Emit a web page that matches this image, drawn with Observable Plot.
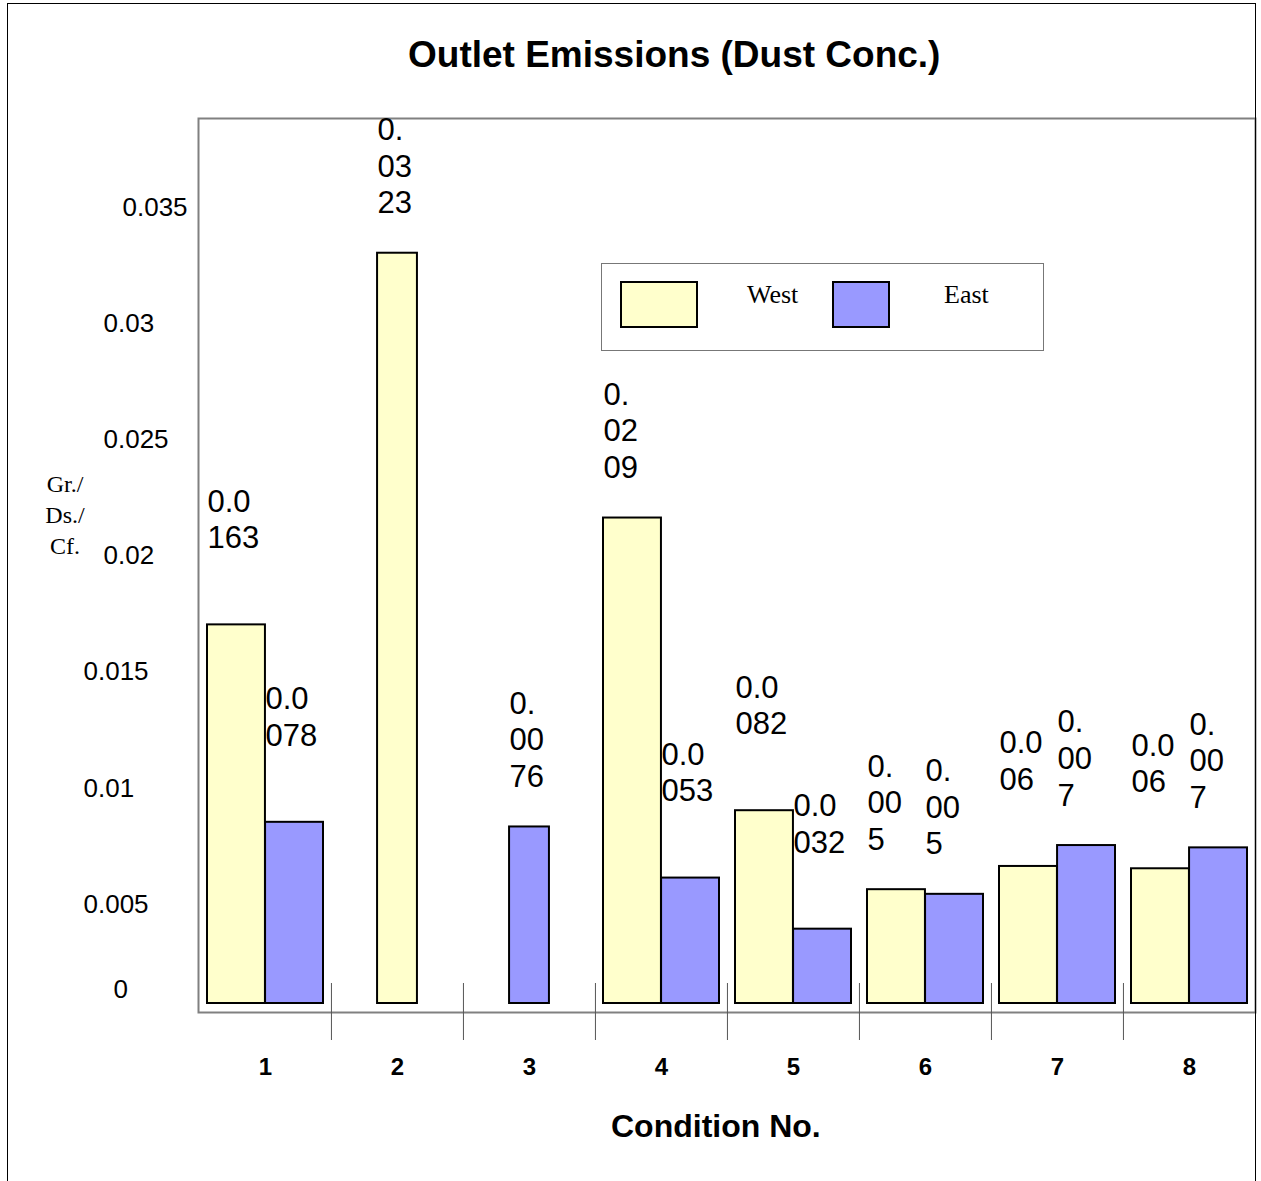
<!DOCTYPE html>
<html><head><meta charset="utf-8">
<script src="https://cdn.jsdelivr.net/npm/d3@7"></script>
<script src="https://cdn.jsdelivr.net/npm/@observablehq/plot@0.6"></script>
<style>
body{margin:0;background:#fff;font-family:Arial,"Liberation Sans",sans-serif}
#wrap{position:relative;width:1261px;height:1181px;overflow:hidden;background:#fff}
#chart{position:absolute;left:0;top:0}
#border{position:absolute;left:7px;top:3px;width:1249px;height:1200px;border:1px solid #000;box-sizing:border-box;pointer-events:none}
#title{position:absolute;left:408px;top:34px;font:bold 37px Arial,"Liberation Sans",sans-serif;white-space:nowrap;color:#000}
#xlabel{position:absolute;left:611px;top:1108px;font:bold 32px Arial,"Liberation Sans",sans-serif;white-space:nowrap;color:#000}
#ylabel{position:absolute;left:28px;top:469px;width:74px;text-align:center;font:24px "Liberation Serif","DejaVu Serif",serif;line-height:31px;color:#000}
#legend{position:absolute;left:601px;top:263px;width:443px;height:88px;border:1.5px solid #777;box-sizing:border-box;background:#fff}
.sw{position:absolute;top:17px;height:47px;border:2px solid #000;box-sizing:border-box}
.lt{position:absolute;top:16px;font:26px "Liberation Serif","DejaVu Serif",serif;color:#000}
</style></head>
<body><div id="wrap">
<div id="chart"></div>
<div id="border"></div>
<div id="title"></div>
<div id="ylabel"></div>
<div id="xlabel"></div>
<div id="legend"></div>
</div>
<script>
const titleText = "Outlet Emissions (Dust Conc.)";
const xTitle = "Condition No.";
const yTitleLines = ["Gr./", "Ds./", "Cf."];
const conditions = ["1", "2", "3", "4", "5", "6", "7", "8"];
const seriesNames = ["West", "East"];
const seriesColors = ["#FFFFCC", "#9999FF"];
const westValues = [0.0163, 0.0323, null, 0.0209, 0.0083, 0.0049, 0.0059, 0.0058];
const eastValues = [0.0078, null, 0.0076, 0.0054, 0.0032, 0.0047, 0.0068, 0.0067];
const westLabels = ["0.0\n163\n", "0.\n03\n23", null, "0.\n02\n09", "0.0\n082\n", "0.\n00\n5", "0.0\n06\n", "0.0\n06\n"];
const eastLabels = ["0.0\n078\n", null, "0.\n00\n76", "0.0\n053\n", "0.0\n032\n", "0.\n00\n5", "0.\n00\n7", "0.\n00\n7"];
const yTicksA = [0.035];
const yTicksB = [0.03, 0.025, 0.02];
const yTicksC = [0.015, 0.01, 0.005];
const yTicksD = [0];

document.getElementById("title").textContent = titleText;
document.getElementById("xlabel").textContent = xTitle;
document.getElementById("ylabel").innerHTML = yTitleLines.join("<br>");

const rows = [];
conditions.forEach((c, i) => {
  if (westValues[i] != null) rows.push({cond: c, series: "West", value: westValues[i], label: westLabels[i], single: eastValues[i] == null});
  if (eastValues[i] != null) rows.push({cond: c, series: "East", value: eastValues[i], label: eastLabels[i], single: westValues[i] == null});
});
const pairW = rows.filter(d => !d.single && d.series === "West");
const pairE = rows.filter(d => !d.single && d.series === "East");
const singles = rows.filter(d => d.single);

const W = 1261, H = 1181, mL = 198, mR = 6, mT = 118, mB = 169;
const bw = (W - mL - mR) / conditions.length;
const half = bw / 2;
const pad = 8, singleW = 40;

const labelStyle = {x: "cond", y: "value", text: "label", textAnchor: "start", lineAnchor: "bottom", dy: -40, fontSize: 31, lineHeight: 1.18, fill: "#000"};
const tickStyle = {tickSize: 0, tickPadding: 0, textAnchor: "start", fontSize: 26, tickFormat: d => String(d), fill: "#000", label: null};

const plot = Plot.plot({
  width: W, height: H,
  marginLeft: mL, marginRight: mR, marginTop: mT, marginBottom: mB,
  style: {fontFamily: "Arial, 'Liberation Sans', sans-serif", background: "transparent", color: "#000"},
  x: {type: "band", domain: conditions, padding: 0, label: null},
  y: {domain: [0, 0.0381], insetBottom: 9, label: null},
  color: {domain: seriesNames, range: seriesColors},
  marks: [
    Plot.barY(pairW, {x: "cond", y: "value", fill: "series", stroke: "#000", strokeWidth: 2, insetLeft: pad, insetRight: half}),
    Plot.barY(pairE, {x: "cond", y: "value", fill: "series", stroke: "#000", strokeWidth: 2, insetLeft: half, insetRight: pad}),
    Plot.barY(singles, {x: "cond", y: "value", fill: "series", stroke: "#000", strokeWidth: 2, insetLeft: (bw - singleW) / 2, insetRight: (bw - singleW) / 2}),
    Plot.frame({stroke: "#808080", strokeWidth: 2}),
    Plot.ruleX(conditions.slice(1), {x: d => d, dx: -half, stroke: "#555", strokeWidth: 1, insetTop: 865, insetBottom: -28}),
    Plot.text(pairW, {...labelStyle, dx: pad - half}),
    Plot.text(pairE, {...labelStyle, dx: 0}),
    Plot.text(singles, {...labelStyle, dx: -singleW / 2}),
    Plot.axisY(yTicksA, {...tickStyle, dx: 122 - mL, dy: 17}),
    Plot.axisY(yTicksB, {...tickStyle, dx: 103 - mL, dy: 17}),
    Plot.axisY(yTicksC, {...tickStyle, dx: 83 - mL, dy: 17}),
    Plot.axisY(yTicksD, {...tickStyle, dx: 113 - mL, dy: -14}),
    Plot.axisX({tickSize: 0, tickPadding: 45, fontSize: 24, fontWeight: "bold", label: null, fill: "#000"})
  ]
});
document.getElementById("chart").appendChild(plot);

const legend = document.getElementById("legend");
const swLeft = [18, 230], swWidth = [78, 58], txtLeft = [145, 342];
seriesNames.forEach((s, i) => {
  const sw = document.createElement("div");
  sw.className = "sw";
  sw.style.left = swLeft[i] + "px";
  sw.style.width = swWidth[i] + "px";
  sw.style.background = seriesColors[i];
  legend.appendChild(sw);
  const t = document.createElement("div");
  t.className = "lt";
  t.style.left = txtLeft[i] + "px";
  t.textContent = s;
  legend.appendChild(t);
});
</script>
</body></html>
